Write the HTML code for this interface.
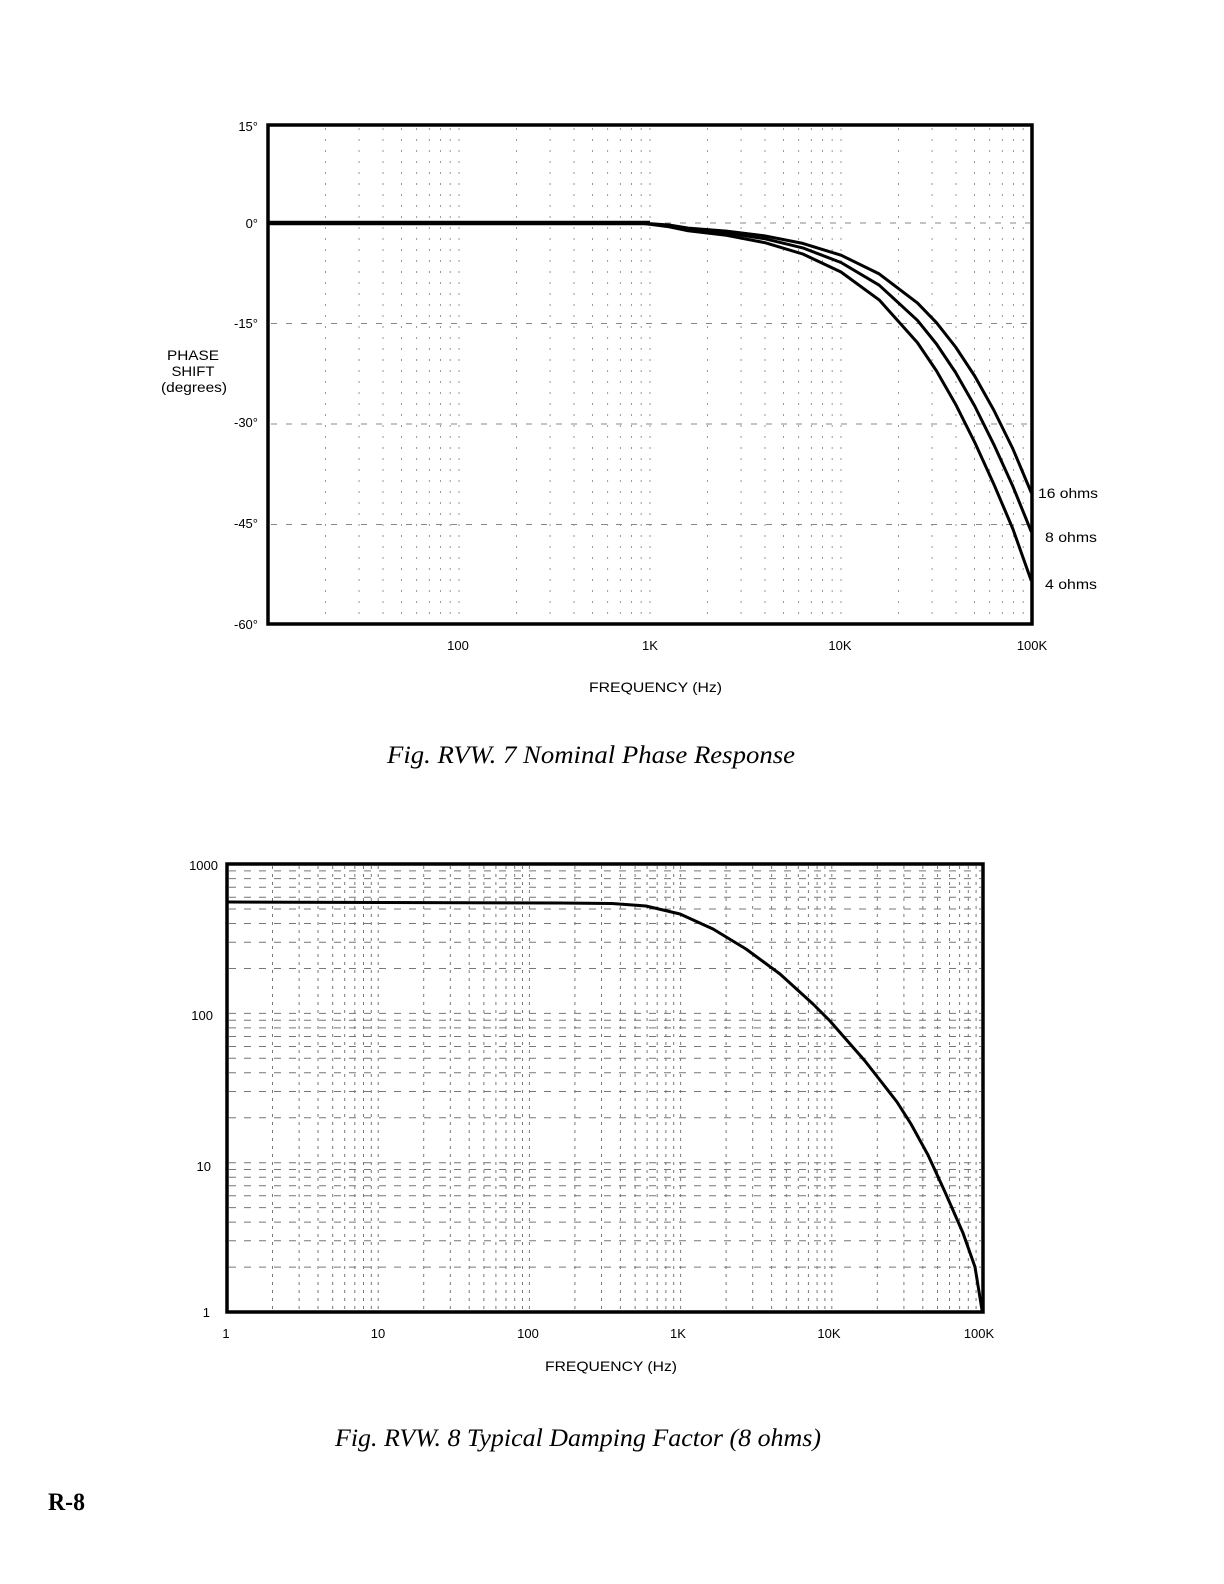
<!DOCTYPE html>
<html>
<head>
<meta charset="utf-8">
<style>
  html, body { margin: 0; padding: 0; background: #fff; }
  svg { display: block; }
  .sans { font-family: "Liberation Sans", "DejaVu Sans", sans-serif; fill: #000; }
  .serif { font-family: "Liberation Serif", "DejaVu Serif", serif; fill: #000; }
</style>
</head>
<body>
<svg width="1224" height="1584" viewBox="0 0 1224 1584" xmlns="http://www.w3.org/2000/svg">
  <rect x="0" y="0" width="1224" height="1584" fill="#fff"/>

  <!-- ================= TOP CHART: PHASE ================= -->
  <path fill="none" stroke="#999" stroke-width="1" stroke-dasharray="2 9"
    d="M325.5 128V622 M359.1 128V622 M383 128V622 M401.5 128V622 M416.6 128V622 M429.4 128V622 M440.5 128V622 M450.2 128V622 M459 128V622
       M516.5 128V622 M550.1 128V622 M574 128V622 M592.5 128V622 M607.6 128V622 M620.4 128V622 M631.5 128V622 M641.2 128V622 M650 128V622
       M707.5 128V622 M741.1 128V622 M765 128V622 M783.5 128V622 M798.6 128V622 M811.4 128V622 M822.5 128V622 M832.2 128V622 M841 128V622
       M898.5 128V622 M932.1 128V622 M956 128V622 M974.5 128V622 M989.6 128V622 M1002.4 128V622 M1013.5 128V622 M1023.2 128V622"/>
  <path fill="none" stroke="#888" stroke-width="1" stroke-dasharray="6 9"
    d="M271 323.5H1030 M271 424H1030 M271 524.5H1030 M650 223H1030"/>

  <path d="M268 223H650" stroke="#000" stroke-width="4.5" fill="none"/>

  <g fill="none" stroke="#000" stroke-width="3" stroke-linejoin="round" stroke-linecap="round">
    <path d="M640 223 L669 225 L688.2 228.1 L726.4 231.1 L764.6 235.9 L802.8 243.4 L841 255.2 L879.2 273.9 L917.4 302.9 L936.5 322.7 L955.6 347 L974.7 376 L993.8 410.1 L1012.9 448.9 L1031 492"/>
    <path d="M640 223 L669 225.8 L688.2 229.3 L726.4 232.9 L764.6 238.7 L802.8 247.9 L841 262.5 L879.2 285.2 L917.4 320.3 L936.5 344 L955.6 372.5 L974.7 406 L993.8 444.4 L1012.9 486.4 L1031 531"/>
    <path d="M640 223 L669 226.8 L688.2 230.8 L726.4 235.3 L764.6 242.6 L802.8 254 L841 272 L879.2 299.9 L917.4 342.6 L936.5 370.9 L955.6 404.2 L974.7 442.3 L993.8 484.1 L1012.9 529 L1031 580"/>
  </g>

  <rect x="268" y="125" width="764" height="499" fill="none" stroke="#000" stroke-width="3.5"/>

  <g class="sans" font-size="13" text-anchor="end">
    <text x="258" y="131">15°</text>
    <text x="258" y="228">0°</text>
    <text x="258" y="328">-15°</text>
    <text x="258" y="427">-30°</text>
    <text x="258" y="528">-45°</text>
    <text x="258" y="629">-60°</text>
  </g>
  <g class="sans" font-size="14" text-anchor="middle">
    <text x="193" y="360" textLength="52" lengthAdjust="spacingAndGlyphs">PHASE</text>
    <text x="193" y="376" textLength="43" lengthAdjust="spacingAndGlyphs">SHIFT</text>
    <text x="194" y="392" textLength="66" lengthAdjust="spacingAndGlyphs">(degrees)</text>
  </g>

  <g class="sans" font-size="13" text-anchor="middle">
    <text x="458" y="650">100</text>
    <text x="650" y="650">1K</text>
    <text x="840" y="650">10K</text>
    <text x="1032" y="650">100K</text>
  </g>
  <text class="sans" font-size="14" x="589" y="692" textLength="133" lengthAdjust="spacingAndGlyphs">FREQUENCY (Hz)</text>

  <g class="sans" font-size="14">
    <text x="1038" y="498" textLength="60" lengthAdjust="spacingAndGlyphs">16 ohms</text>
    <text x="1045" y="542" textLength="52" lengthAdjust="spacingAndGlyphs">8 ohms</text>
    <text x="1045" y="589" textLength="52" lengthAdjust="spacingAndGlyphs">4 ohms</text>
  </g>

  <text class="serif" font-size="25" font-style="italic" x="387" y="763" textLength="408" lengthAdjust="spacingAndGlyphs">Fig. RVW. 7  Nominal Phase Response</text>

  <!-- ================= BOTTOM CHART: DAMPING FACTOR ================= -->
  <path fill="none" stroke="#777" stroke-width="1" stroke-dasharray="7 8"
    d="M229 1267.1H981 M229 1240.8H981 M229 1222.1H981 M229 1207.6H981 M229 1195.8H981 M229 1185.8H981 M229 1177.2H981 M229 1169.5H981 M229 1162.7H981
       M229 1117.8H981 M229 1091.5H981 M229 1072.8H981 M229 1058.3H981 M229 1046.5H981 M229 1036.5H981 M229 1027.9H981 M229 1020.2H981 M229 1013.4H981
       M229 968.5H981 M229 942.2H981 M229 923.5H981 M229 909H981 M229 897.2H981 M229 887.2H981 M229 878.6H981 M229 870.9H981"/>
  <path fill="none" stroke="#777" stroke-width="1" stroke-dasharray="3 5"
    d="M272.5 866V1310 M299.1 866V1310 M318 866V1310 M332.7 866V1310 M344.7 866V1310 M354.8 866V1310 M363.5 866V1310 M371.3 866V1310 M378.2 866V1310
       M423.7 866V1310 M450.3 866V1310 M469.2 866V1310 M483.9 866V1310 M495.9 866V1310 M506 866V1310 M514.7 866V1310 M522.5 866V1310 M529.4 866V1310
       M574.9 866V1310 M601.5 866V1310 M620.4 866V1310 M635.1 866V1310 M647.1 866V1310 M657.2 866V1310 M665.9 866V1310 M673.7 866V1310 M680.6 866V1310
       M726.1 866V1310 M752.7 866V1310 M771.6 866V1310 M786.3 866V1310 M798.3 866V1310 M808.4 866V1310 M817.1 866V1310 M824.9 866V1310 M831.8 866V1310
       M877.3 866V1310 M903.9 866V1310 M922.8 866V1310 M937.5 866V1310 M949.5 866V1310 M959.6 866V1310 M968.3 866V1310 M976.1 866V1310"/>

  <path fill="none" stroke="#000" stroke-width="3" stroke-linejoin="round" stroke-linecap="round"
    d="M228 902 L560 903 L612 903.5 L646 906 L680 914 L713 929 L746 949 L780 974 L813 1004 L830 1021 L865 1061 L883 1084 L897 1102 L911 1124 L928 1155 L945 1192 L963 1233 L975 1267 L982 1310"/>

  <rect x="227" y="864" width="756" height="448" fill="none" stroke="#000" stroke-width="3.5"/>

  <g class="sans" font-size="13" text-anchor="end">
    <text x="218" y="870">1000</text>
    <text x="213" y="1020">100</text>
    <text x="211" y="1171">10</text>
    <text x="210" y="1317">1</text>
  </g>
  <g class="sans" font-size="13" text-anchor="middle">
    <text x="226" y="1338">1</text>
    <text x="378" y="1338">10</text>
    <text x="528" y="1338">100</text>
    <text x="678" y="1338">1K</text>
    <text x="829" y="1338">10K</text>
    <text x="979" y="1338">100K</text>
  </g>
  <text class="sans" font-size="14" x="545" y="1371" textLength="132" lengthAdjust="spacingAndGlyphs">FREQUENCY (Hz)</text>

  <text class="serif" font-size="25" font-style="italic" x="335" y="1446" textLength="486" lengthAdjust="spacingAndGlyphs">Fig. RVW. 8  Typical Damping Factor (8 ohms)</text>

  <text class="serif" font-size="25" font-weight="bold" x="48" y="1510" textLength="37" lengthAdjust="spacingAndGlyphs">R-8</text>
</svg>
</body>
</html>
